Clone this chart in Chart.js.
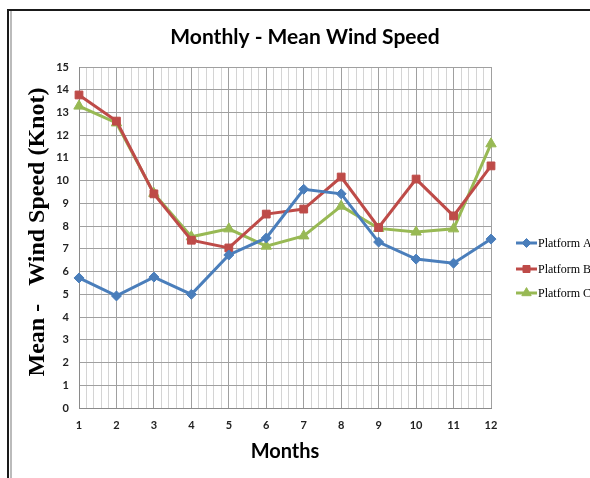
<!DOCTYPE html>
<html>
<head>
<meta charset="utf-8">
<script src="https://cdn.jsdelivr.net/npm/chart.js@4.4.1/dist/chart.umd.min.js"></script>
<style>
html,body{margin:0;padding:0;background:#fff;}
#wrap{position:relative;width:590px;height:478px;}
</style>
</head>
<body>
<div id="wrap"><canvas id="c" width="590" height="478"></canvas></div>
<script>
const chartTitle = "Monthly - Mean Wind Speed";
const xTitle = "Months";
const yTitle = "Mean -   Wind Speed (Knot)";
const months = [1,2,3,4,5,6,7,8,9,10,11,12];
const seriesNames = ["Platform A","Platform B","Platform C"];
const platformA = [5.72,4.93,5.76,5.0,6.73,7.48,9.62,9.42,7.3,6.55,6.37,7.43];
const platformB = [13.77,12.62,9.42,7.38,7.04,8.53,8.75,10.16,7.94,10.07,8.45,10.65];
const platformC = [13.28,12.54,9.44,7.53,7.88,7.12,7.57,8.88,7.9,7.74,7.88,11.62];
const yTicks = {min:0, max:15, step:1};
const xMinorStep = 0.2;

const colors = ["#4A7EBB","#BE4B48","#98B954"];
const styles = ["rectRot","rect","triangle"];
const radii = [5,5.5,6];

const isInt = v => Math.abs(v - Math.round(v)) < 1e-6;

const datasets = [platformA, platformB, platformC].map((vals, i) => ({
  label: seriesNames[i],
  data: months.map((m, j) => ({x: m, y: vals[j]})),
  borderColor: colors[i],
  backgroundColor: colors[i],
  pointBackgroundColor: colors[i],
  pointBorderColor: colors[i],
  pointStyle: styles[i],
  pointRadius: radii[i],
  pointBorderWidth: 1,
  borderWidth: 3,
  tension: 0,
  clip: false
}));

const decor = {
  id: 'decor',
  afterDraw(chart) {
    const ctx = chart.ctx;
    const ca = chart.chartArea;
    ctx.save();
    // frame
    ctx.fillStyle = '#bbbbbb';
    ctx.fillRect(10, 11, 2, 478);
    ctx.fillStyle = '#1a1a1a';
    ctx.fillRect(7, 9, 590, 2);
    ctx.fillRect(7, 9, 2, 478);
    // title
    ctx.fillStyle = '#000';
    ctx.textAlign = 'center';
    ctx.textBaseline = 'middle';
    ctx.font = 'bold 21px Lato, "Open Sans", sans-serif';
    ctx.fillText(chartTitle, 305, 37);
    // x title
    ctx.font = 'bold 20px Lato, "Open Sans", sans-serif';
    ctx.fillText(xTitle, (ca.left + ca.right) / 2, 452);
    // y title
    ctx.save();
    ctx.translate(38, 232);
    ctx.rotate(-Math.PI / 2);
    ctx.font = 'bold 24px "Liberation Serif", "DejaVu Serif", serif';
    ctx.fillText(yTitle, 0, 0);
    ctx.restore();
    // legend
    const ly = [243, 269, 293];
    ctx.textAlign = 'left';
    ctx.font = '12px "Liberation Serif", serif';
    chart.data.datasets.forEach((ds, i) => {
      const y = ly[i];
      ctx.strokeStyle = ds.borderColor;
      ctx.lineWidth = 3;
      ctx.beginPath();
      ctx.moveTo(516, y);
      ctx.lineTo(537, y);
      ctx.stroke();
      ctx.fillStyle = ds.borderColor;
      ctx.strokeStyle = ds.borderColor;
      ctx.lineWidth = 1;
      Chart.helpers.drawPoint(ctx, {pointStyle: ds.pointStyle, rotation: 0, radius: ds.pointRadius * 0.9, borderWidth: 1}, 526.5, y);
      ctx.fillStyle = '#000';
      ctx.fillText(ds.label, 538, y + 1);
    });
    ctx.restore();
  }
};

new Chart(document.getElementById('c'), {
  type: 'line',
  data: { datasets },
  options: {
    responsive: false,
    animation: false,
    events: [],
    layout: { padding: { left: 0, top: 67, right: 99, bottom: 40 } },
    plugins: { legend: { display: false }, title: { display: false }, tooltip: { enabled: false } },
    scales: {
      x: {
        type: 'linear',
        min: 1, max: 12,
        afterFit: s => { s.height = 30; },
        border: { display: true, color: '#8a8a8a', width: 1 },
        grid: {
          drawTicks: false,
          color: c => isInt(c.tick.value) ? '#a0a0a0' : '#d4d4d4',
          lineWidth: 1
        },
        ticks: {
          stepSize: xMinorStep,
          autoSkip: false,
          maxRotation: 0,
          padding: 11,
          color: '#222',
          font: { family: 'Lato, "Open Sans", sans-serif', size: 11, weight: 'bold' },
          callback: v => isInt(v) ? String(Math.round(v)) : ''
        }
      },
      y: {
        min: yTicks.min, max: yTicks.max,
        afterFit: s => { s.width = 79; },
        border: { display: true, color: '#8a8a8a', width: 1 },
        grid: { drawTicks: false, color: '#a0a0a0', lineWidth: 1 },
        ticks: {
          stepSize: yTicks.step,
          padding: 10,
          color: '#222',
          font: { family: 'Lato, "Open Sans", sans-serif', size: 11, weight: 'bold' }
        }
      }
    }
  },
  plugins: [decor]
});
</script>
</body>
</html>
